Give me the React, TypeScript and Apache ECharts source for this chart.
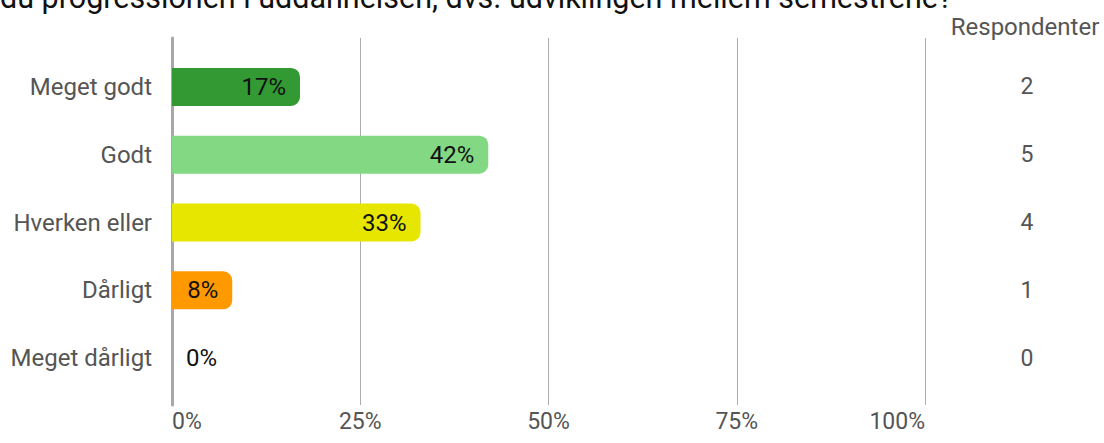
import React, { useEffect, useRef } from "react";
import * as echarts from "echarts";

const titleText = "du progressionen i uddannelsen, dvs. udviklingen mellem semestrene?";
const categories = ["Meget godt", "Godt", "Hverken eller", "Dårligt", "Meget dårligt"];
const percents = [17, 42, 33, 8, 0];
const counts = [2, 5, 4, 1, 0];
const barColors = ["#339933", "#83d883", "#e6e600", "#ff9900", "#cccccc"];
const xTicks = [0, 25, 50, 75, 100];
const countHeader = "Respondenter";

const FONT = "Roboto, 'Noto Sans', sans-serif";

export default function App() {
  const ref = useRef<HTMLDivElement>(null);
  useEffect(() => {
    if (!ref.current) return;
    const chart = echarts.init(ref.current, undefined, { renderer: "svg" });
    const left = 172;
    const width = 753;
    chart.setOption({
      animation: false,
      textStyle: { fontFamily: FONT },
      grid: [
        { left, width, top: 38, height: 367 },
        { left, width, top: 53, height: 339 },
      ],
      xAxis: [
        {
          gridIndex: 0,
          type: "value",
          min: xTicks[0],
          max: xTicks[xTicks.length - 1],
          interval: 25,
          axisLine: { show: false },
          axisTick: { show: false },
          splitLine: { show: true, lineStyle: { color: "#ababab", width: 1 } },
          axisLabel: {
            formatter: (v: number) => v + "%",
            fontSize: 23,
            color: "#555555",
            margin: 5,
            fontFamily: FONT,
            alignMinLabel: "left",
            alignMaxLabel: "right",
          },
        },
        {
          gridIndex: 1,
          type: "value",
          min: 0,
          max: 100,
          show: false,
        },
      ],
      yAxis: [
        {
          gridIndex: 0,
          type: "value",
          axisLine: { show: true, lineStyle: { color: "#a8a8a8", width: 3 } },
          axisTick: { show: false },
          axisLabel: { show: false },
          splitLine: { show: false },
        },
        {
          gridIndex: 1,
          type: "category",
          inverse: true,
          data: categories,
          axisLine: { show: false },
          axisTick: { show: false },
          axisLabel: { fontSize: 24, color: "#555555", margin: 20, fontFamily: FONT },
        },
        {
          gridIndex: 1,
          type: "category",
          inverse: true,
          position: "right",
          data: counts.map(String),
          axisLine: { show: false },
          axisTick: { show: false },
          axisLabel: { fontSize: 23, color: "#555555", margin: 102, align: "center", fontFamily: FONT },
        },
      ],
      graphic: [
        {
          type: "text",
          left: 0,
          top: -18,
          style: { text: titleText, fontSize: 30.5, fill: "#111111", fontFamily: FONT },
        },
        {
          type: "text",
          x: 1025,
          y: 27,
          style: {
            text: countHeader,
            fontSize: 24,
            fill: "#555555",
            fontFamily: FONT,
            textAlign: "center",
            textVerticalAlign: "middle",
          },
        },
      ],
      series: [
        {
          type: "bar",
          xAxisIndex: 1,
          yAxisIndex: 1,
          barWidth: 38,
          data: percents.map((p, i) => ({
            value: p,
            itemStyle: { color: barColors[i], borderRadius: [0, 9, 9, 0] },
            label: p === 0 ? { position: "right" } : undefined,
          })),
          label: {
            show: true,
            position: "insideRight",
            distance: 14,
            formatter: (pr: any) => pr.value + "%",
            fontSize: 24,
            color: "#111111",
            fontFamily: FONT,
          },
        },
      ],
    });
    return () => chart.dispose();
  }, []);
  return (
    <div
      ref={ref}
      style={{ position: "fixed", left: 0, top: 0, width: 1104, height: 443, background: "#fff" }}
    />
  );
}
